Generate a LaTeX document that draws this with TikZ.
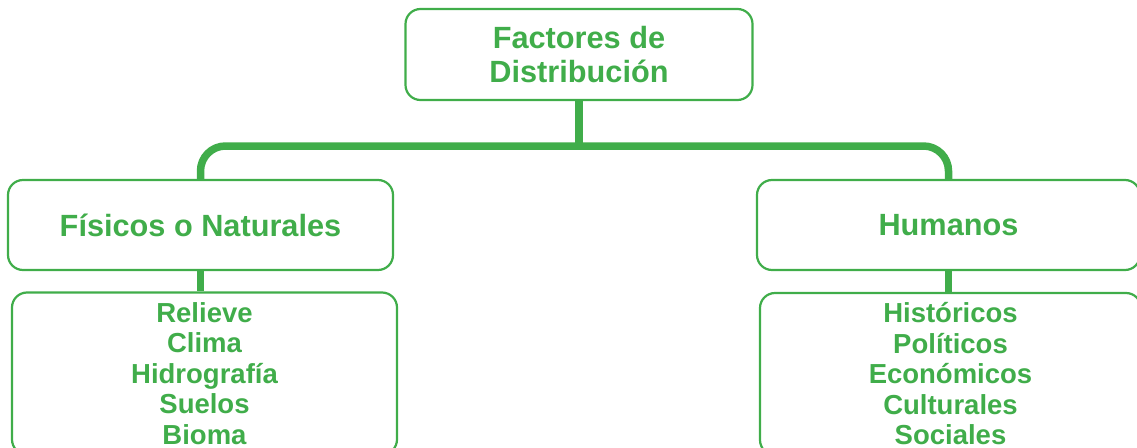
\documentclass[tikz,border=0pt]{standalone}
\usepackage{fontspec}
\setmainfont{Liberation Sans}
\usepackage{tikz}

\definecolor{hojaverde}{RGB}{64,173,74}

\tikzset{
    caja/.style={draw=hojaverde, line width=2.2pt, rounded corners=15pt,
        text=hojaverde, font=\bfseries, align=center, inner sep=0pt},
    tronco/.style={draw=hojaverde, line width=7.5pt, rounded corners=25pt},
    grande/.style={font=\bfseries\fontsize{30.7}{34}\selectfont},
    lista/.style={font=\bfseries\fontsize{27.5}{30.5}\selectfont}
}

\begin{document}
\begin{tikzpicture}[x=1pt, y=-1pt]
        \useasboundingbox (0,0) rectangle (1137,447);
        \clip (0,0) rectangle (1137,447);

        \node[caja, grande, minimum width=347pt, minimum height=91pt] (factores) at (579,54.5) {Factores de\\Distribución};
        \node[caja, grande, minimum width=385pt, minimum height=90pt] (fisicos) at (200.5,225) {Físicos o Naturales};
        \node[caja, grande, minimum width=383pt, minimum height=90pt] (humanos) at (948.5,225) {Humanos};
        \node[caja, lista, minimum width=385pt, minimum height=162pt] (fislist) at (204.5,373.5) {Relieve\\Clima\\Hidrografía\\Suelos\\Bioma};
        \node[caja, lista, minimum width=381pt, minimum height=162pt] (humlist) at (950.5,374) {Históricos\\Políticos\\Económicos\\Culturales\\Sociales};

        \coordinate (barra) at (572,146);

        \draw[tronco] (factores.south) -- (factores.south |- barra);
        \draw[tronco] (fisicos.north) |- (factores.south |- barra) -| (humanos.north);
        \draw[tronco] (fisicos.south) -- (fisicos.south |- fislist.north);
        \draw[tronco] (humanos.south) -- (humanos.south |- humlist.north);
        \end{tikzpicture}
\end{document}
